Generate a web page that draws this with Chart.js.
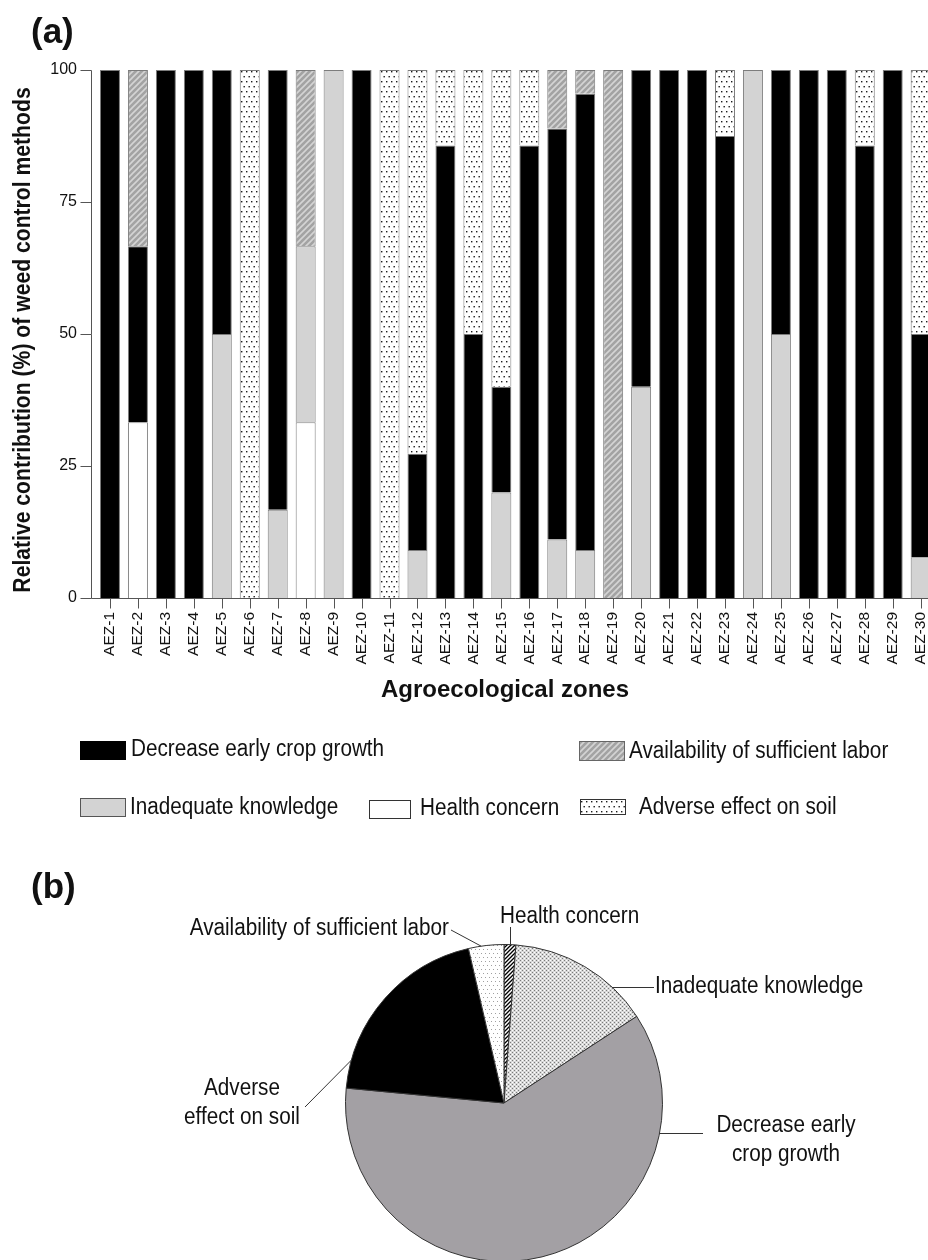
<!DOCTYPE html>
<html>
<head>
<meta charset="utf-8">
<script src="https://cdn.jsdelivr.net/npm/chart.js@4.4.1/dist/chart.umd.min.js"></script>
<style>
  html, body { margin: 0; padding: 0; background: #fff; }
  body { width: 928px; height: 1260px; overflow: hidden; position: relative; }
  canvas { position: absolute; left: 0; }
  #bars { top: 0; }
  #pie { top: 840px; }
</style>
</head>
<body>
<canvas id="bars" width="940" height="840"></canvas>
<canvas id="pie" width="928" height="430"></canvas>
<script>
// ---- (a) reasons per agroecological zone, % of respondents ----
const zones = ['AEZ-1','AEZ-2','AEZ-3','AEZ-4','AEZ-5','AEZ-6','AEZ-7','AEZ-8','AEZ-9','AEZ-10',
               'AEZ-11','AEZ-12','AEZ-13','AEZ-14','AEZ-15','AEZ-16','AEZ-17','AEZ-18','AEZ-19','AEZ-20',
               'AEZ-21','AEZ-22','AEZ-23','AEZ-24','AEZ-25','AEZ-26','AEZ-27','AEZ-28','AEZ-29','AEZ-30'];
const healthConcern = [0,33.3,0,0,0,0,0,33.3,0,0, 0,0,0,0,0,0,0,0,0,0, 0,0,0,0,0,0,0,0,0,0];
const inadequateKnowledge = [0,0,0,0,50,0,16.7,33.3,100,0, 0,9.1,0,0,20,0,11.1,9.1,0,40, 0,0,0,100,50,0,0,0,0,7.7];
const decreaseEarlyGrowth = [100,33.3,100,100,50,0,83.3,0,0,100, 0,18.2,85.7,50,20,85.7,77.8,86.4,0,60, 100,100,87.5,0,50,100,100,85.7,100,42.3];
const adverseEffectSoil = [0,0,0,0,0,100,0,0,0,0, 100,72.7,14.3,50,60,14.3,0,0,0,0, 0,0,12.5,0,0,0,0,14.3,0,50];
const sufficientLabor = [0,33.4,0,0,0,0,0,33.4,0,0, 0,0,0,0,0,0,11.1,4.5,100,0, 0,0,0,0,0,0,0,0,0,0];
const yTicks = [0, 25, 50, 75, 100];

// ---- (b) overall share of each reason, % ----
const pieLabels = ['Health concern','Inadequate knowledge','Decrease early crop growth','Adverse effect on soil','Availability of sufficient labor'];
const pieValues = [1.2, 14.6, 60.7, 19.9, 3.6];

const FONT = '"Liberation Sans", Arial, Helvetica, sans-serif';

// ---------- fill patterns ----------
function pattern(ctx, w, h, paint) {
  const c = document.createElement('canvas');
  c.width = w; c.height = h;
  const g = c.getContext('2d');
  paint(g, w, h);
  return ctx.createPattern(c, 'repeat');
}
function dotGrid(ctx, bg, dot, step, size) {
  // staggered dot grid: every other row shifted by half a step
  return pattern(ctx, step * 2, step * 2, (g, w, h) => {
    g.fillStyle = bg; g.fillRect(0, 0, w, h);
    g.fillStyle = dot;
    g.fillRect(1, 1, size, size);
    g.fillRect(1 + step, 1, size, size);
    g.fillRect(1 + step / 2, 1 + step, size, size);
    g.fillRect(1 + step * 1.5, 1 + step, size, size);
  });
}
function hatched(ctx, bg, line, step, lw) {
  return pattern(ctx, step, step, (g, w, h) => {
    g.fillStyle = bg; g.fillRect(0, 0, w, h);
    g.strokeStyle = line; g.lineWidth = lw;
    g.beginPath();
    g.moveTo(-1, h + 1); g.lineTo(w + 1, -1);
    g.moveTo(-1, 1); g.lineTo(1, -1);
    g.moveTo(w - 1, h + 1); g.lineTo(w + 1, h - 1);
    g.stroke();
  });
}

const barCanvas = document.getElementById('bars');
const bctx = barCanvas.getContext('2d');
const fills = {
  health: '#ffffff',
  knowledge: '#d3d3d3',
  decrease: '#000000',
  adverse: dotGrid(bctx, '#ffffff', '#1a1a1a', 5, 1.4),
  labor: hatched(bctx, '#a3a3a3', '#d4d4d4', 6, 1.6)
};

function narrowText(ctx, text, x, y, align, size, weight) {
  ctx.save();
  ctx.font = (weight || 'normal') + ' ' + size + 'px ' + FONT;
  ctx.textAlign = align;
  ctx.textBaseline = 'middle';
  ctx.translate(x, y);
  ctx.scale(0.9, 1);
  ctx.fillStyle = '#111';
  ctx.fillText(text, 0, 0);
  ctx.restore();
}

function seg(values, label, fill) {
  return {
    label,
    data: values.map(v => (v > 0 ? v : null)),
    backgroundColor: fill,
    borderColor: '#7c7c7c',
    borderWidth: 1,
    barPercentage: 0.715,
    categoryPercentage: 1.0
  };
}

// axis lines, tick marks, titles and legend of panel (a)
const barDecor = {
  id: 'barDecor',
  afterDraw(chart) {
    const { ctx, chartArea } = chart;
    const x = chart.scales.x, y = chart.scales.y;
    const axX = Math.round(chartArea.left - 5) + 0.5;
    const baseY = Math.round(y.getPixelForValue(0)) + 0.5;
    ctx.save();
    ctx.strokeStyle = '#555';
    ctx.lineWidth = 1;
    ctx.beginPath();
    ctx.moveTo(axX, Math.round(y.getPixelForValue(100)) + 0.5);
    ctx.lineTo(axX, baseY);
    ctx.lineTo(chart.width, baseY);
    yTicks.forEach(v => {
      const py = Math.round(y.getPixelForValue(v)) + 0.5;
      ctx.moveTo(axX - 11, py); ctx.lineTo(axX, py);
    });
    zones.forEach((z, i) => {
      const px = Math.round(x.getPixelForValue(i)) + 0.5;
      ctx.moveTo(px, baseY); ctx.lineTo(px, baseY + 10);
    });
    ctx.stroke();

    // panel letter
    ctx.fillStyle = '#111';
    ctx.font = 'bold 35px ' + FONT;
    ctx.textAlign = 'left';
    ctx.textBaseline = 'alphabetic';
    ctx.fillText('(a)', 31, 43);

    // axis titles
    ctx.save();
    ctx.translate(24, (chartArea.top + chartArea.bottom) / 2 + 6);
    ctx.rotate(-Math.PI / 2);
    ctx.scale(0.9, 1);
    ctx.font = 'bold 23.5px ' + FONT;
    ctx.textAlign = 'center';
    ctx.textBaseline = 'middle';
    ctx.fillText('Relative contribution (%) of weed control methods', 0, 0);
    ctx.restore();

    ctx.font = 'bold 24px ' + FONT;
    ctx.textAlign = 'center';
    ctx.textBaseline = 'middle';
    ctx.fillText('Agroecological zones', 505, 690);

    // legend
    const sw = (fill, l, t, w, h, stroke) => {
      ctx.fillStyle = fill;
      ctx.fillRect(l, t, w, h);
      ctx.strokeStyle = stroke;
      ctx.lineWidth = 1;
      ctx.strokeRect(l + 0.5, t + 0.5, w - 1, h - 1);
    };
    sw(fills.decrease, 80, 741, 46, 19, '#000');
    narrowText(ctx, 'Decrease early crop growth', 131, 750, 'left', 23);
    sw(fills.labor, 579, 741, 46, 20, '#666');
    narrowText(ctx, 'Availability of sufficient labor', 629, 752, 'left', 23);
    sw(fills.knowledge, 80, 798, 46, 19, '#555');
    narrowText(ctx, 'Inadequate knowledge', 130, 808, 'left', 23);
    sw(fills.health, 369, 800, 42, 19, '#333');
    narrowText(ctx, 'Health concern', 420, 809, 'left', 23);
    sw(fills.adverse, 580, 799, 46, 16, '#333');
    narrowText(ctx, 'Adverse effect on soil', 639, 808, 'left', 23);
    ctx.restore();
  }
};

new Chart(barCanvas, {
  type: 'bar',
  data: {
    labels: zones,
    datasets: [
      seg(healthConcern, 'Health concern', fills.health),
      seg(inadequateKnowledge, 'Inadequate knowledge', fills.knowledge),
      seg(decreaseEarlyGrowth, 'Decrease early crop growth', fills.decrease),
      seg(adverseEffectSoil, 'Adverse effect on soil', fills.adverse),
      seg(sufficientLabor, 'Availability of sufficient labor', fills.labor)
    ]
  },
  options: {
    responsive: false,
    devicePixelRatio: 1,
    animation: false,
    layout: { padding: { left: 0, top: 70, right: 5.35, bottom: 120 } },
    plugins: { legend: { display: false }, tooltip: { enabled: false } },
    scales: {
      x: {
        stacked: true,
        offset: true,
        grid: { display: false, drawTicks: false },
        border: { display: false },
        ticks: {
          autoSkip: false, minRotation: 90, maxRotation: 90, padding: 14,
          color: '#111', font: { family: FONT, size: 15.5 }
        },
        afterFit(s) { s.height = 122; s.paddingLeft = 0; s.paddingRight = 0; }
      },
      y: {
        stacked: true,
        min: 0, max: 100,
        afterBuildTicks(s) { s.ticks = yTicks.map(v => ({ value: v })); },
        grid: { display: false, drawTicks: false },
        border: { display: false },
        ticks: { padding: 19, color: '#111', font: { family: FONT, size: 16 } },
        afterFit(s) { s.width = 96; s.paddingTop = 0; s.paddingBottom = 0; }
      }
    }
  },
  plugins: [barDecor]
});

// ---------- (b) pie ----------
const pieCanvas = document.getElementById('pie');
const pctx = pieCanvas.getContext('2d');
const pieFills = [
  hatched(pctx, '#ffffff', '#000000', 4, 1.3),
  pattern(pctx, 4, 4, (g, w, h) => {
    g.fillStyle = '#d8d8d8'; g.fillRect(0, 0, w, h);
    g.fillStyle = '#7a7a7a';
    g.fillRect(0, 0, 1, 1); g.fillRect(2, 2, 1, 1);
    g.fillStyle = '#ffffff';
    g.fillRect(2, 0, 1, 1); g.fillRect(0, 2, 1, 1);
  }),
  '#a3a0a4',
  '#000000',
  dotGrid(pctx, '#ffffff', '#a0a0a0', 4, 1)
];

// label placement for each slice: text lines, anchor on the arc, text position
const pieNotes = [
  { lines: ['Health concern'], at: 0.5, tx: 500, ty: 77, align: 'left', lead: 'up', leadTo: 87 },
  { lines: ['Inadequate knowledge'], rowY: 147, tx: 655, ty: 147, align: 'left', lead: 'row', leadTo: 654 },
  { lines: ['Decrease early', 'crop growth'], rowY: 293, tx: 786, ty: 286, align: 'center', lead: 'row', leadTo: 703 },
  { lines: ['Adverse', 'effect on soil'], at: 0.144, tx: 242, ty: 249, align: 'center', lead: 'pt', from: [305, 267] },
  { lines: ['Availability of sufficient labor'], at: 0.36, tx: 449, ty: 89, align: 'right', lead: 'pt', from: [451, 90] }
];

const pieDecor = {
  id: 'pieDecor',
  afterDraw(chart) {
    const { ctx } = chart;
    const arcs = chart.getDatasetMeta(0).data;
    ctx.save();
    ctx.fillStyle = '#111';
    ctx.font = 'bold 35px ' + FONT;
    ctx.textAlign = 'left';
    ctx.textBaseline = 'alphabetic';
    ctx.fillText('(b)', 31, 58);

    ctx.strokeStyle = '#333';
    ctx.lineWidth = 1;
    pieNotes.forEach((n, i) => {
      const a = arcs[i];
      const r = a.outerRadius;
      ctx.beginPath();
      if (n.lead === 'row') {
        const dy = n.rowY - a.y;
        const px = a.x + Math.sqrt(Math.max(r * r - dy * dy, 0));
        ctx.moveTo(px, n.rowY + 0.5); ctx.lineTo(n.leadTo, n.rowY + 0.5);
      } else {
        const ang = a.startAngle + (a.endAngle - a.startAngle) * n.at;
        const px = a.x + r * Math.cos(ang), py = a.y + r * Math.sin(ang);
        if (n.lead === 'up') { ctx.moveTo(Math.round(px) + 0.5, py); ctx.lineTo(Math.round(px) + 0.5, n.leadTo); }
        else { ctx.moveTo(n.from[0], n.from[1]); ctx.lineTo(px, py); }
      }
      ctx.stroke();
      n.lines.forEach((t, k) => narrowText(ctx, t, n.tx, n.ty + k * 29, n.align, 23));
    });
    ctx.restore();
  }
};

new Chart(pieCanvas, {
  type: 'pie',
  data: {
    labels: pieLabels,
    datasets: [{
      data: pieValues,
      backgroundColor: pieFills,
      borderColor: '#333',
      borderWidth: 1
    }]
  },
  options: {
    responsive: false,
    devicePixelRatio: 1,
    animation: false,
    layout: { padding: { left: 345, right: 265, top: 104, bottom: 8 } },
    plugins: { legend: { display: false }, tooltip: { enabled: false } }
  },
  plugins: [pieDecor]
});
</script>
</body>
</html>
